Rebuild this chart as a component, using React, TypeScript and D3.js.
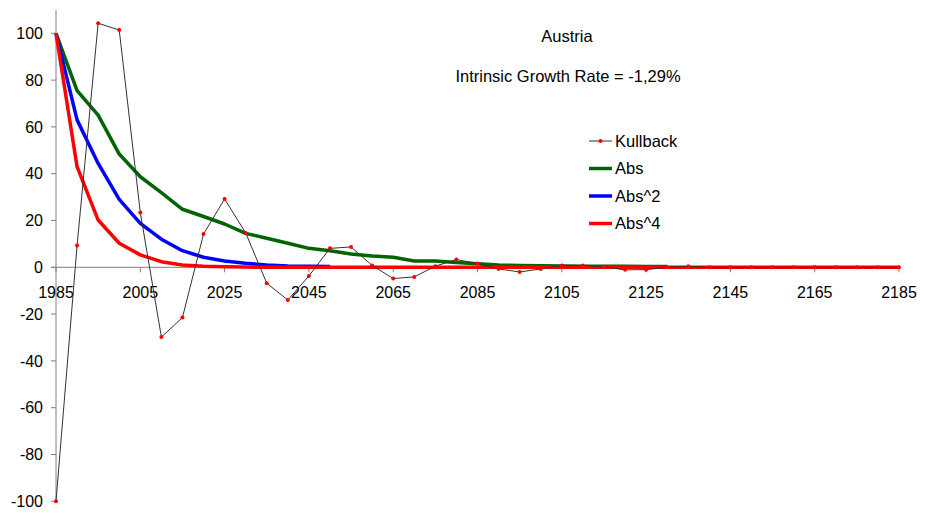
import React, { useEffect, useRef } from 'react';
import * as d3 from 'd3';

const years = [
  1985, 1990, 1995, 2000, 2005, 2010, 2015, 2020, 2025, 2030, 2035, 2040, 2045, 2050,
  2055, 2060, 2065, 2070, 2075, 2080, 2085, 2090, 2095, 2100, 2105, 2110, 2115, 2120,
  2125, 2130, 2135, 2140, 2145, 2150, 2155, 2160, 2165, 2170, 2175, 2180, 2185,
];

const kullback = [
  -100, 9.3, 104.3, 101.4, 23.4, -29.8, -21.5, 14.2, 29.2, 14.7, -6.8, -14, -3.7, 8.1,
  8.7, 0.8, -4.8, -4.1, 0.5, 3.3, 1.6, -0.7, -2, -0.7, 0.8, 0.8, 0.2, -1.1,
  -1, 0, 0.4, 0, 0, 0, 0, 0, 0, 0, 0, 0, 0,
];

const abs1 = [
  100, 75.5, 65, 48.4, 38.7, 31.9, 24.8, 21.7, 18.5, 14.5, 12.4, 10.3, 8.1, 7.1,
  5.7, 4.8, 4.3, 2.7, 2.7, 2.1, 1.5, 1.0, 0.8, 0.7, 0.6, 0.5, 0.4, 0.4, 0.3, 0.3,
];

const abs2 = [100, 63, 44.4, 29, 18.8, 12, 7.1, 4.3, 2.7, 1.7, 1.0, 0.6, 0.4, 0.3];

const abs4 = [
  100, 43, 20.2, 10.3, 5.3, 2.4, 1.0, 0.4, 0.2, 0.1, 0, 0, 0, 0,
  0, 0, 0, 0, 0, 0, 0, 0, 0, 0, 0, 0, 0, 0,
  0, 0, 0, 0, 0, 0, 0, 0, 0, 0, 0, 0, 0,
];

const xTicks = [1985, 2005, 2025, 2045, 2065, 2085, 2105, 2125, 2145, 2165, 2185];
const yTicks = [-100, -80, -60, -40, -20, 0, 20, 40, 60, 80, 100];

const legendItems = [
  { name: 'Kullback', color: '#333', width: 1, marker: true },
  { name: 'Abs', color: '#006400', width: 3.5, marker: false },
  { name: 'Abs^2', color: '#0000ff', width: 3.5, marker: false },
  { name: 'Abs^4', color: '#ff0000', width: 3.5, marker: false },
];

const FONT = '"Liberation Sans", Arial, sans-serif';

const App = () => {
  const ref = useRef<SVGSVGElement>(null);

  useEffect(() => {
    const svg = d3.select(ref.current);
    svg.selectAll('*').remove();

    const x = d3.scaleLinear().domain([1985, 2185]).range([56, 899]);
    const y = d3.scaleLinear().domain([-100, 110]).range([501.3, 9.9]);

    // axes
    svg.append('line')
      .attr('x1', x(1985)).attr('x2', x(1985))
      .attr('y1', y(110)).attr('y2', y(-100))
      .attr('stroke', '#808080').attr('stroke-width', 1);

    svg.append('line')
      .attr('x1', x(1985) - 5).attr('x2', x(2185))
      .attr('y1', y(0)).attr('y2', y(0))
      .attr('stroke', '#808080').attr('stroke-width', 1);

    svg.selectAll('.xtick')
      .data(xTicks)
      .enter()
      .append('line')
      .attr('x1', d => x(d)).attr('x2', d => x(d))
      .attr('y1', y(0)).attr('y2', y(0) + 5)
      .attr('stroke', '#808080');

    svg.selectAll('.ytick')
      .data(yTicks)
      .enter()
      .append('line')
      .attr('x1', x(1985) - 5).attr('x2', x(1985))
      .attr('y1', d => y(d)).attr('y2', d => y(d))
      .attr('stroke', '#808080');

    svg.selectAll('.xlabel')
      .data(xTicks)
      .enter()
      .append('text')
      .attr('x', d => x(d))
      .attr('y', y(0) + 31)
      .attr('text-anchor', 'middle')
      .attr('font-family', FONT)
      .attr('font-size', 16)
      .text(d => d);

    svg.selectAll('.ylabel')
      .data(yTicks)
      .enter()
      .append('text')
      .attr('x', 43)
      .attr('y', d => y(d))
      .attr('dy', '0.36em')
      .attr('text-anchor', 'end')
      .attr('font-family', FONT)
      .attr('font-size', 16)
      .text(d => d);

    // series
    const line = d3.line<[number, number]>()
      .x(d => x(d[0]))
      .y(d => y(d[1]));

    const series = [
      { values: abs1, color: '#006400' },
      { values: abs2, color: '#0000ff' },
      { values: abs4, color: '#ff0000' },
    ];

    series.forEach(s => {
      svg.append('path')
        .datum(s.values.map((v, i) => [years[i], v] as [number, number]))
        .attr('d', line)
        .attr('fill', 'none')
        .attr('stroke', s.color)
        .attr('stroke-width', 3.5)
        .attr('stroke-linejoin', 'round');
    });

    const kPts = kullback.map((v, i) => [years[i], v] as [number, number]);
    svg.append('path')
      .datum(kPts)
      .attr('d', line)
      .attr('fill', 'none')
      .attr('stroke', '#333')
      .attr('stroke-width', 1);

    svg.selectAll('.kdot')
      .data(kPts)
      .enter()
      .append('circle')
      .attr('cx', d => x(d[0]))
      .attr('cy', d => y(d[1]))
      .attr('r', 2)
      .attr('fill', '#ff0000');

    // titles
    svg.append('text')
      .attr('x', 567).attr('y', 41.5)
      .attr('text-anchor', 'middle')
      .attr('font-family', FONT).attr('font-size', 16.5)
      .text('Austria');

    svg.append('text')
      .attr('x', 568).attr('y', 81.5)
      .attr('text-anchor', 'middle')
      .attr('font-family', FONT).attr('font-size', 16.5)
      .text('Intrinsic Growth Rate = -1,29%');

    // legend
    const legend = svg.append('g');
    legendItems.forEach((item, i) => {
      const ly = 141 + i * 27.5;
      legend.append('line')
        .attr('x1', 589).attr('x2', 612)
        .attr('y1', ly).attr('y2', ly)
        .attr('stroke', item.color)
        .attr('stroke-width', item.width);
      if (item.marker) {
        legend.append('circle')
          .attr('cx', 600.5).attr('cy', ly).attr('r', 2)
          .attr('fill', '#ff0000');
      }
      legend.append('text')
        .attr('x', 615).attr('y', ly)
        .attr('dy', '0.36em')
        .attr('font-family', FONT).attr('font-size', 16.5)
        .text(item.name);
    });
  }, []);

  return (
    <svg
      ref={ref}
      width={927}
      height={513}
      style={{ position: 'absolute', left: 0, top: 0, background: '#fff' }}
    />
  );
};

export default App;
